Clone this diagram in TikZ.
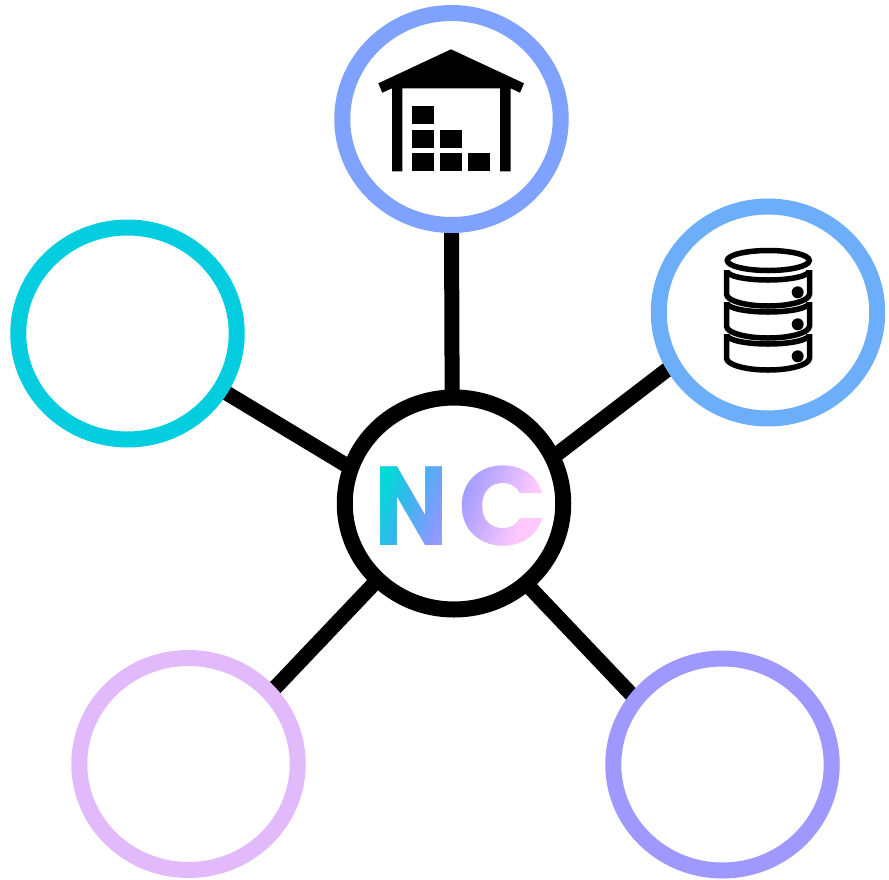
\documentclass[tikz,border=0pt]{standalone}
\usepackage{fontspec}
\newfontfamily\logofont{Poppins}[BoldFont=Poppins Bold]
\usetikzlibrary{
    shapes.geometric,
    backgrounds,
    fadings,
    shadings
}
\definecolor{storeblue}{RGB}{128, 162, 255}
\definecolor{dbblue}{RGB}{108, 174, 250}
\definecolor{tealring}{RGB}{4, 205, 224}
\definecolor{lilacring}{RGB}{226, 186, 252}
\definecolor{violetring}{RGB}{158, 152, 255}
\pgfdeclarehorizontalshading{ncshade}{100bp}{
    rgb(0bp)=(0,0.88,0.82);
    rgb(25bp)=(0,0.86,0.84);
    rgb(33bp)=(0.2,0.72,0.92);
    rgb(45bp)=(0.55,0.6,1);
    rgb(53bp)=(0.7,0.64,1);
    rgb(70bp)=(1,0.79,1);
    rgb(100bp)=(1,0.79,1)}
\tikzset{
    logotext/.style={font=\logofont\bfseries\fontsize{112}{112}\selectfont, inner sep=0pt, anchor=base}
}
\begin{tikzfadingfrompicture}[name=ncfade]
    \node[logotext, text=transparent!0, xscale=0.88] at (-49pt,-39pt) {N};
    \node[logotext, text=transparent!0, xscale=1.04] at (42pt,-39pt) {C};
\end{tikzfadingfrompicture}
\begin{document}
\begin{tikzpicture}[
        x=1pt, y=1pt,
        ring/.style={draw, ellipse, fill=white, line width=16pt, minimum width=218.5pt, minimum height=212pt, inner sep=0pt, outer sep=0pt},
        link/.style={line width=15pt},
        solidpart/.style={fill=black},
        dbline/.style={line width=5.5pt}
    ]
        \useasboundingbox (0, 0) rectangle (889, -879);

        % Hub and outer rings
        \node[ring, draw=black] (hub) at (454, -503.5) {};
        \node[ring, draw=storeblue] (store) at (451.5, -119) {};
        \node[ring, draw=dbblue] (db) at (768, -312.5) {};
        \node[ring, draw=tealring] (teal) at (127.5, -333.5) {};
        \node[ring, draw=lilacring] (lilac) at (188.5, -764) {};
        \node[ring, draw=violetring] (violet) at (722.5, -764.5) {};

        % Links
        \begin{scope}[on background layer]
            \draw[link] (hub.91.35) -- (store.270);
            \draw[link] (hub.25.6) -- (db.209.9);
            \draw[link] (hub.161.2) -- (teal.-31.7);
            \draw[link] (hub.225.9) -- (lilac.41.3);
            \draw[link] (hub.-48) -- (violet.143.1);
        \end{scope}

        % Logo
        \node[logotext, text=violetring, xscale=0.88] (logon) at (412, -545) {N};
        \node[logotext, text=lilacring, xscale=1.04] (logoc) at (503, -545) {C};
        \shade[shading=ncshade, shading angle=-20, path fading=ncfade, fit fading=false, fading transform={xshift=461pt, yshift=-506pt}] (371, -450) rectangle (551, -560);

        % Warehouse icon
        \fill[solidpart] (451, -49.3) -- (524, -83.3) -- (520, -92.7) -- (510.7, -88.3) -- (510.7, -171.3) -- (500, -171.3) -- (500, -88.3)
            -- (402.3, -88.3) -- (402.3, -171.3) -- (392, -171.3) -- (392, -88.3) -- (382.3, -92.7) -- (378.3, -83.3) -- cycle;
        \foreach \bx/\by in {412.3/105.7, 412.3/129.7, 440.3/129.7, 412.3/153.3, 440.3/153.3, 468.3/153.3} {
            \fill[solidpart] (\bx, -\by) rectangle (\bx + 21.7, -\by - 17.8);
        }

        % Database icon
        \draw[dbline] (768.3, -260.5) ellipse [x radius=41, y radius=10];
        \foreach \dy in {0, 32, 64} {
            \draw[dbline] (726.5, -270 - \dy) -- (726.5, -294 - \dy) arc [start angle=180, end angle=360, x radius=41.5, y radius=12] -- (809.5, -270 - \dy);
            \draw[dbline] (727, -271 - \dy) arc [start angle=180, end angle=360, x radius=41, y radius=9];
            \fill (797.7, -292.3 - \dy) circle [radius=6];
        }
\end{tikzpicture}
\end{document}
